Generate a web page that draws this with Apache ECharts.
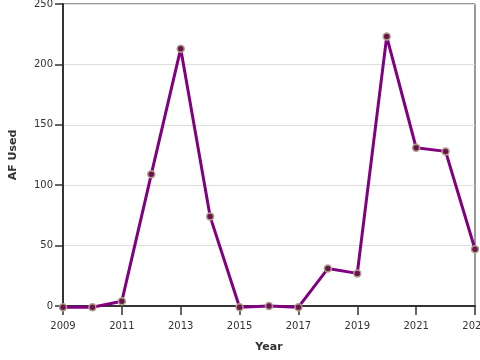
<!DOCTYPE html>
<html>
<head>
<meta charset="utf-8">
<script src="https://cdn.jsdelivr.net/npm/echarts@6/dist/echarts.min.js"></script>
<style>html,body{margin:0;padding:0;background:#fff}#c{width:480px;height:360px}</style>
</head>
<body>
<div id="c"></div>
<script>
const years = [2009,2010,2011,2012,2013,2014,2015,2016,2017,2018,2019,2020,2021,2022,2023];
const afUsed = [-1,-1,4,109,213,74,-1,0,-1,31,27,223,131,128,47];
const xTicks = {min: 2009, max: 2023, interval: 2};
const yTicks = {min: 0, max: 250, interval: 50};

const chart = echarts.init(document.getElementById('c'));
const font = 'DejaVu Sans';
chart.setOption({
  animation: false,
  grid: {left: 63, right: 5, top: 4, bottom: 54, containLabel: false, outerBoundsMode: 'none',
         show: true, borderColor: '#333', borderWidth: 1, backgroundColor: 'transparent'},
  xAxis: {
    type: 'value', min: xTicks.min, max: xTicks.max, interval: xTicks.interval,
    name: 'Year', nameLocation: 'middle', nameGap: 36,
    nameTextStyle: {fontFamily: font, fontWeight: 'bold', fontSize: 11, color: '#333'},
    axisLine: {show: true, onZero: false, lineStyle: {color: '#333', width: 2}},
    axisTick: {show: true, inside: false, length: 9, lineStyle: {color: '#333', width: 1.5}},
    axisLabel: {fontFamily: font, fontSize: 10, color: '#333', margin: 15, formatter: v => String(v), hideOverlap: false},
    splitLine: {show: false}
  },
  yAxis: {
    type: 'value', min: yTicks.min, max: yTicks.max, interval: yTicks.interval,
    name: 'AF Used', nameLocation: 'middle', nameGap: 44,
    nameTextStyle: {fontFamily: font, fontWeight: 'bold', fontSize: 11, color: '#333'},
    axisLine: {show: true, lineStyle: {color: '#333', width: 2}},
    axisTick: {show: true, inside: false, length: 8, lineStyle: {color: '#333', width: 1.5}},
    axisLabel: {fontFamily: font, fontSize: 10, color: '#333', margin: 10},
    splitLine: {show: true, lineStyle: {color: '#ddd', width: 1}}
  },
  series: [{
    type: 'line',
    data: years.map((y, i) => [y, afUsed[i]]),
    clip: false,
    symbol: 'circle', symbolSize: 7,
    lineStyle: {color: '#800080', width: 3},
    itemStyle: {color: '#6a1550', borderColor: '#b3a08a', borderWidth: 1.5},
    z: 3
  }]
});
</script>
</body>
</html>
